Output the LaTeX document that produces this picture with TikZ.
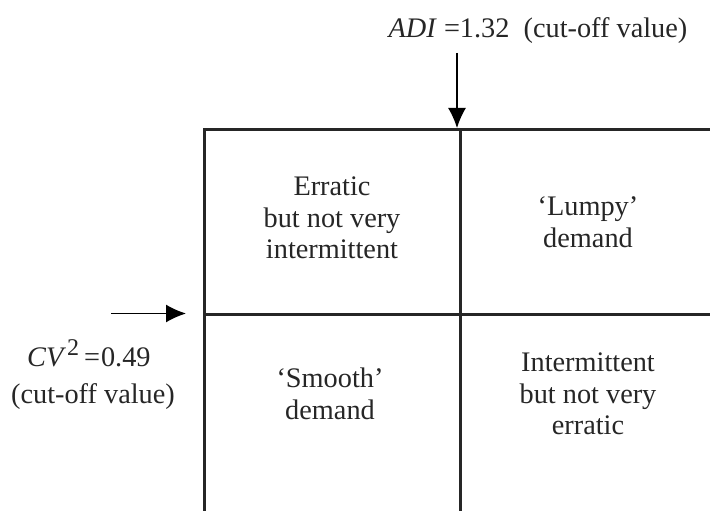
\documentclass[tikz,border=0pt]{standalone}
\usepackage{fontspec}
\setmainfont{Liberation Serif}
\usetikzlibrary{arrows.meta}
\begin{document}
\begin{tikzpicture}[x=1pt,y=-1pt,
  grid/.style={line width=3pt,black!85},
  cutarrow/.style={line width=1.4pt,-{Latex[length=20pt,width=18pt]}},
  lbl/.style={font=\fontsize{28.3}{31.5}\selectfont,align=center,inner sep=0pt,text=black!85}]
\useasboundingbox (0,0) rectangle (710,511);
\fill[white] (0,0) rectangle (710,511);
% grid
\draw[grid] (204,520) -- (204,129) -- (720,129);
\draw[grid] (460.5,129) -- (460.5,520);
\draw[grid] (204,314.5) -- (720,314.5);
% quadrant labels
\node[lbl] (ul) at (332,218) {Erratic\\but not very\\intermittent};
\node[lbl] (ur) at (588,222) {‘Lumpy’\\demand};
\node[lbl] (ll) at (330,394) {‘Smooth’\\demand};
\node[lbl] (lr) at (588,394) {Intermittent\\but not very\\erratic};
% cut-off labels
\node[lbl,anchor=base] (adi) at (538,38) {\textit{ADI} =1.32\enspace(cut-off value)};
\node[lbl,anchor=base west] (cv) at (27,366) {\textit{CV}\kern1pt\raisebox{0.8ex}{\fontsize{24}{24}\selectfont 2}\kern5pt=\kern1pt0.49};
\node[lbl] (cvt) at (93,397) {(cut-off value)};
% arrows
\coordinate (a1) at (457,53);
\coordinate (a2) at (457,128);
\coordinate (b1) at (111,313.5);
\coordinate (b2) at (186,313.5);
\draw[cutarrow] (a1) -- (a2);
\draw[cutarrow] (b1) -- (b2);
\end{tikzpicture}
\end{document}
